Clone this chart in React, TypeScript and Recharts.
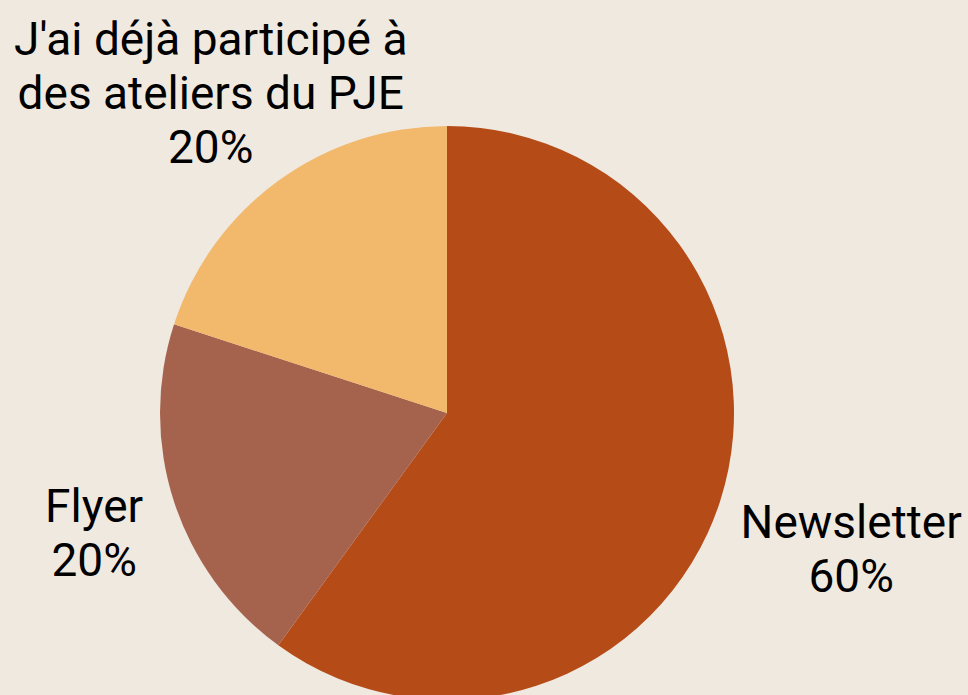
import { PieChart, Pie, Cell } from "recharts";

const labels = ["Newsletter", "Flyer", "J'ai déjà participé à des ateliers du PJE"];
const labelLines = [["Newsletter"], ["Flyer"], ["J'ai déjà participé à", "des ateliers du PJE"]];
const values = [60, 20, 20];
const colors = ["#b54c18", "#a5634e", "#f2b86c"];

// distance from the pie centre to the centre of each label block
const labelDist: Record<string, number> = {
  Newsletter: 425,
  Flyer: 371,
  "J'ai déjà participé à des ateliers du PJE": 402,
};

const data = labels.map((name, i) => ({ name, value: values[i], lines: labelLines[i] }));

const RAD = Math.PI / 180;
const FONT = 46;
const LINE_H = 54;

const renderLabel = (props: any) => {
  const { cx, cy, midAngle, name, percent, payload } = props;
  const r = labelDist[name] ?? 400;
  const x = cx + r * Math.cos(-midAngle * RAD);
  const y = cy + r * Math.sin(-midAngle * RAD) + FONT * 0.11;
  const lines: string[] = [...(payload?.lines ?? [name]), `${Math.round(percent * 100)}%`];
  const top = y - ((lines.length - 1) * LINE_H) / 2;
  return (
    <text x={x} y={y} textAnchor="middle" fill="#000" fontSize={FONT} fontFamily="Roboto, sans-serif">
      {lines.map((l, i) => (
        <tspan key={i} x={x} y={top + i * LINE_H} dominantBaseline="central">
          {l}
        </tspan>
      ))}
    </text>
  );
};

export default function App() {
  return (
    <div style={{ position: "fixed", left: 0, top: 0, width: 968, height: 695, background: "#f0e9e0" }}>
      <PieChart width={968} height={695} margin={{ top: 0, right: 0, bottom: 0, left: 0 }}>
        <Pie
          data={data}
          dataKey="value"
          nameKey="name"
          cx={447}
          cy={413}
          outerRadius={287}
          startAngle={90}
          endAngle={-270}
          stroke="none"
          label={renderLabel}
          labelLine={false}
          isAnimationActive={false}
        >
          {data.map((d, i) => (
            <Cell key={d.name} fill={colors[i]} />
          ))}
        </Pie>
      </PieChart>
    </div>
  );
}
